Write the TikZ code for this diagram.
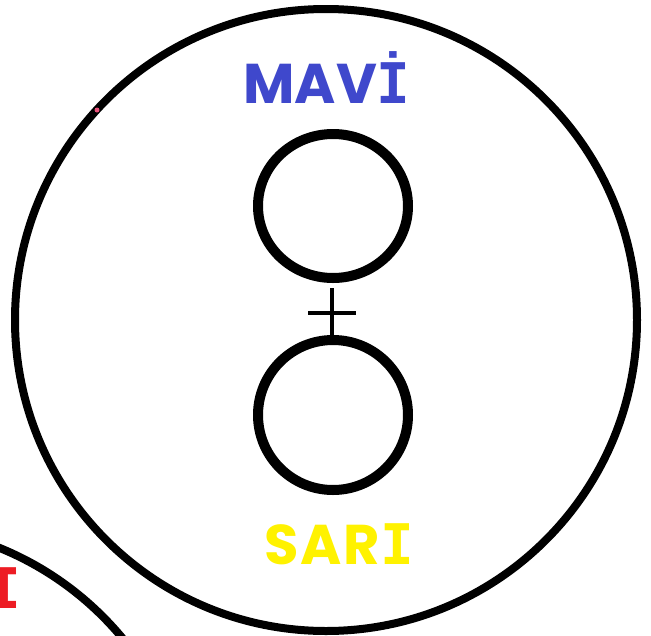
\documentclass[tikz,border=0pt]{standalone}
\usepackage{fontspec}
\newfontfamily\labelfont{Poppins}
\newfontfamily\ifont{DejaVu Sans Mono}
\newcommand{\serI}{{\ifont\bfseries I}}
\newcommand{\serIdot}{{\ifont\bfseries İ}}
\definecolor{mavi}{HTML}{3F48CC}
\definecolor{sari}{HTML}{FFF200}
\definecolor{kirmizi}{HTML}{ED1C24}
\definecolor{pembe}{HTML}{E8507A}
\begin{document}
\begin{tikzpicture}[x=1pt,y=-1pt,
  ring/.style={draw=black,line width=10pt},
  bigring/.style={draw=black,line width=8pt},
  word/.style={font=\labelfont\bfseries\fontsize{56}{56}\selectfont,inner sep=0pt,anchor=center}]
\useasboundingbox (0,0) rectangle (651,635);
\clip (0,0) rectangle (651,635);
\fill[white] (0,0) rectangle (651,635);
\draw[bigring] (326,320) circle[radius=311];
\draw[bigring] (-118,837) circle[radius=312];
\draw[ring] (333,206) ellipse[x radius=75, y radius=72];
\draw[ring] (333,415) ellipse[x radius=75, y radius=75];
\draw[line width=4pt] (308,313) -- (356,313);
\draw[line width=4pt] (332,288) -- (332,336);
\node[word,text=mavi] (mavi) at (327,78) {MAV\serIdot};
\node[word,text=sari] (sari) at (339,544) {S\kern2pt A\kern2pt R\serI};
\node[word,text=kirmizi,anchor=center] (kirmizi) at (4,588) {\serI};
\fill[pembe] (97,110) circle[radius=2.5];
\end{tikzpicture}
\end{document}
